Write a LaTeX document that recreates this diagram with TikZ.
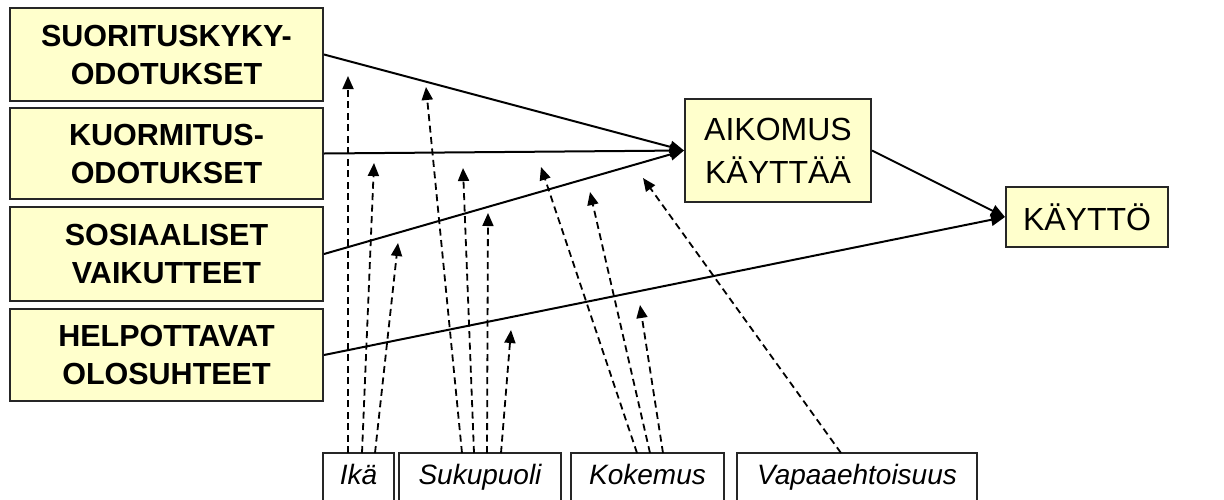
\documentclass[tikz,border=0pt]{standalone}
\usepackage{fontspec}
\setmainfont{Liberation Sans}
\usetikzlibrary{arrows.meta}
\definecolor{boxfill}{RGB}{255,255,204}
\begin{document}
\begin{tikzpicture}[x=1pt,y=-1pt,
  lbox/.style={draw=black!85, line width=2pt, fill=boxfill, minimum width=313pt, minimum height=92pt, inner sep=0pt, align=center, font=\fontsize{30.5}{38}\selectfont\bfseries},
  rbox/.style={draw=black!85, line width=2pt, fill=boxfill, inner sep=0pt, align=center, font=\fontsize{32}{43}\selectfont},
  bbox/.style={draw=black!85, line width=1.8pt, fill=white, minimum height=50pt, inner sep=0pt, text height=20pt, text depth=7pt, font=\fontsize{28}{30}\selectfont\itshape},
  solidarrow/.style={line width=2pt, -{Triangle[length=14pt,width=12pt]}},
  dasharrow/.style={line width=1.8pt, dash pattern=on 7pt off 4.5pt, -{Triangle[length=13pt,width=11pt]}}
]
\clip (0,0) rectangle (1224,499);
\fill[white] (0,0) rectangle (1224,499);
% left boxes
\node[lbox, minimum height=93pt] (suo) at (166.5,54.5) {SUORITUSKYKY-\\ODOTUKSET};
\node[lbox, minimum height=91pt] (kuo) at (166.5,153.5) {KUORMITUS-\\ODOTUKSET};
\node[lbox, minimum height=94pt] (sos) at (166.5,254) {SOSIAALISET\\VAIKUTTEET};
\node[lbox, minimum height=92pt] (hel) at (166.5,355) {HELPOTTAVAT\\OLOSUHTEET};
% right boxes
\node[rbox, minimum width=186pt, minimum height=103pt] (aik) at (778,150.5) {AIKOMUS\\KÄYTTÄÄ};
\node[rbox, minimum width=162pt, minimum height=60pt] (kay) at (1087,217) {KÄYTTÖ};
% bottom boxes
\node[bbox, minimum width=71pt] (ika) at (358.5,478) {Ikä};
\node[bbox, minimum width=162pt] (suk) at (480,478) {Sukupuoli};
\node[bbox, minimum width=153pt] (kok) at (647.5,478) {Kokemus};
\node[bbox, minimum width=240pt] (vap) at (857,478) {Vapaaehtoisuus};
% dashed arrow coordinates
\coordinate (i1s) at (348,453); \coordinate (i1e) at (348,76);
\coordinate (i2s) at (362,453); \coordinate (i2e) at (374,163);
\coordinate (i3s) at (375,453); \coordinate (i3e) at (398,243);
\coordinate (s1s) at (462,453); \coordinate (s1e) at (426,87);
\coordinate (s2s) at (474,453); \coordinate (s2e) at (463,168);
\coordinate (s3s) at (487,453); \coordinate (s3e) at (488,213);
\coordinate (s4s) at (501,453); \coordinate (s4e) at (511,330);
\coordinate (k1s) at (637,453); \coordinate (k1e) at (541,167);
\coordinate (k2s) at (650,453); \coordinate (k2e) at (590,192);
\coordinate (k3s) at (663,453); \coordinate (k3e) at (640,305);
\coordinate (v1s) at (841,453); \coordinate (v1e) at (643,178);
\foreach \a in {i1,i2,i3,s1,s2,s3,s4,k1,k2,k3,v1}
  \draw[dasharrow] (\a s) -- (\a e);
% solid arrows
\draw[solidarrow] (suo.east) -- (aik.west);
\draw[solidarrow] (kuo.east) -- (aik.west);
\draw[solidarrow] (sos.east) -- (aik.west);
\draw[solidarrow] (hel.east) -- (kay.west);
\draw[solidarrow] (aik.east) -- (kay.west);
\end{tikzpicture}
\end{document}
